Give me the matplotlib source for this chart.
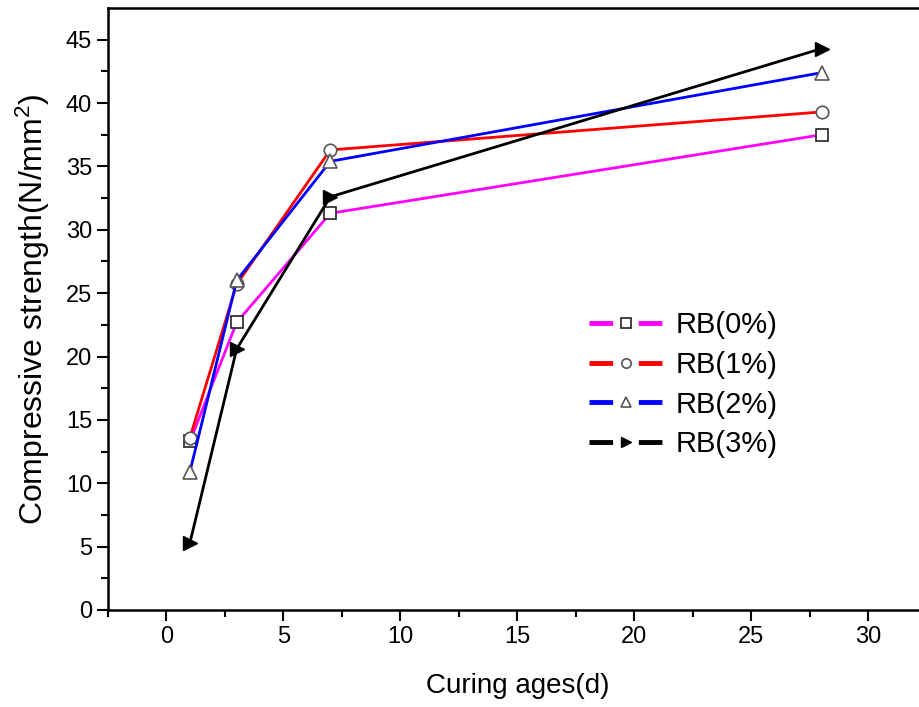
import matplotlib.pyplot as plt

plt.rcParams['font.family'] = ['Liberation Sans', 'DejaVu Sans']
plt.rcParams['mathtext.fontset'] = 'custom'
plt.rcParams['mathtext.rm'] = 'Liberation Sans'
plt.rcParams['mathtext.default'] = 'regular'

ages = [1, 3, 7, 28]
rb0 = [13.3, 22.7, 31.3, 37.5]
rb1 = [13.6, 25.7, 36.3, 39.3]
rb2 = [10.9, 26.0, 35.4, 42.4]
rb3 = [5.3, 20.6, 32.6, 44.3]
labels = ['RB(0%)', 'RB(1%)', 'RB(2%)', 'RB(3%)']

fig = plt.figure(figsize=(9.2, 7.07), dpi=100)
ax = fig.add_axes([108/920, 97/707, 819/920, 602/707])

ax.plot(ages, rb0, color='#ff00ff', lw=2, marker='s', ms=9, mfc='white', mec='#222222', mew=1.2, label=labels[0])
ax.plot(ages, rb1, color='#ff0000', lw=2, marker='o', ms=9, mfc='white', mec='#555555', mew=1.2, label=labels[1])
ax.plot(ages, rb2, color='#0000ff', lw=2, marker='^', ms=10, mfc='white', mec='#555555', mew=1.2, label=labels[2])
ax.plot(ages, rb3, color='black', lw=2, marker='>', ms=10, mfc='black', mec='black', label=labels[3])

ax.set_xlim(-2.5, 32.5)
ax.set_ylim(0, 47.5)
ax.set_xticks(range(0, 31, 5))
ax.set_xticks([x + 2.5 for x in range(-5, 31, 5)], minor=True)
ax.set_yticks(range(0, 46, 5))
ax.set_yticks([y + 2.5 for y in range(0, 45, 5)], minor=True)
ax.tick_params(which='major', direction='out', length=8, width=1.5, labelsize=17)
ax.tick_params(which='minor', direction='out', length=5, width=1.5)
for s in ax.spines.values():
    s.set_linewidth(1.8)

ax.set_xlabel('Curing ages(d)', fontsize=20, labelpad=18)
ax.set_ylabel('Compressive strength(N/mm$^2$)', fontsize=23, labelpad=10)

leg = ax.legend(loc='upper left', bbox_to_anchor=(563/920, 1 - 285/707), bbox_transform=fig.transFigure,
                frameon=False, fontsize=21, handlelength=2.5, numpoints=1, labelspacing=0.4,
                handletextpad=0.45, markerscale=0.75)
# line - marker - line look of the legend keys
for line in leg.get_lines():
    line.set_linewidth(3.5)
    line.set_dashes([17 / 3.5, 18.5 / 3.5])
    line.set_dash_capstyle('butt')

plt.savefig('out.png', dpi=100)
